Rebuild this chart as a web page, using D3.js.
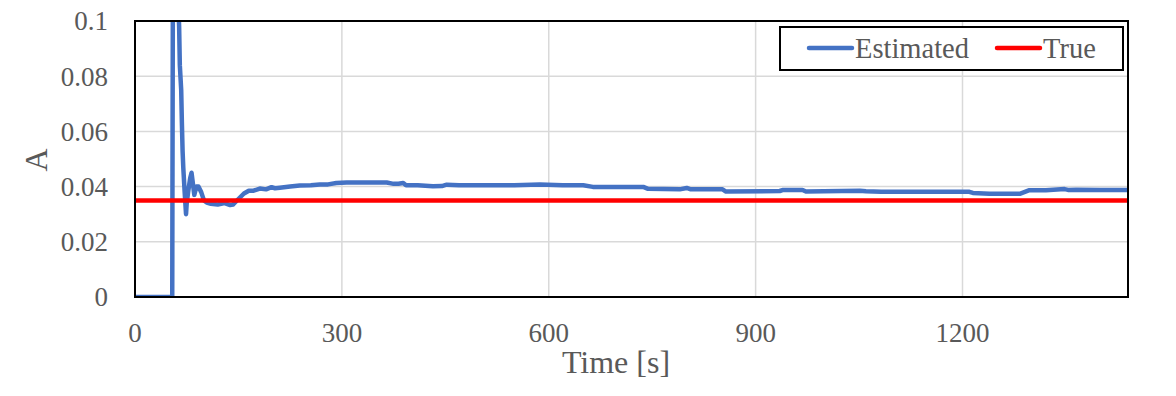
<!DOCTYPE html>
<html lang="en">
<head>
  <meta charset="UTF-8">
  <title>Estimated vs True</title>
  <style>
    body { margin: 0; background: #fff; }
    text { font-family: "Liberation Serif", "Times New Roman", serif; fill: #595959; }
  </style>
</head>
<body>
  <div id="chart"></div>
  <script src="https://cdn.jsdelivr.net/npm/d3@7"></script>
  <script>
    // values: [time s, A]
    const estimated = [
      [0, 0], [54, 0], [55, 0.12], [58, 0.118], [62, 0.112], [64, 0.098], [65, 0.084],
      [67, 0.075], [68, 0.063], [69, 0.053], [70, 0.047], [72, 0.038],
      [74, 0.030], [75, 0.034], [77, 0.038], [80, 0.043], [82, 0.045], [84, 0.041],
      [86, 0.037], [89, 0.040], [92, 0.040], [96, 0.038], [100, 0.035], [104, 0.0342],
      [110, 0.0338], [120, 0.0335], [130, 0.034], [138, 0.0333], [142, 0.0335],
      [150, 0.0355], [158, 0.0375], [165, 0.0385], [172, 0.0385], [181, 0.0393],
      [190, 0.0390], [198, 0.0398], [203, 0.0394], [210, 0.0396], [225, 0.0400],
      [239, 0.0404], [255, 0.0405], [268, 0.0408], [280, 0.0408], [292, 0.0413],
      [307, 0.0415], [330, 0.0415], [365, 0.0415], [375, 0.0410], [382, 0.0410],
      [389, 0.0413], [393, 0.0405], [410, 0.0405], [432, 0.0401], [445, 0.0402],
      [452, 0.0407], [470, 0.0405], [500, 0.0405], [550, 0.0405], [587, 0.0408],
      [620, 0.0405], [650, 0.0405], [664, 0.0399], [700, 0.0399], [737, 0.0399],
      [744, 0.0392], [790, 0.0390], [800, 0.0395], [806, 0.0390], [852, 0.0390],
      [857, 0.0382], [935, 0.0384], [940, 0.0388], [968, 0.0388], [973, 0.0382],
      [1051, 0.0385], [1060, 0.0383], [1082, 0.0381], [1150, 0.0381], [1210, 0.0381],
      [1215, 0.0377], [1239, 0.0374], [1283, 0.0374], [1297, 0.0387], [1321, 0.0387],
      [1348, 0.0391], [1353, 0.0388], [1365, 0.0389], [1400, 0.0388], [1440, 0.0388]
    ];
    const trueValue = 0.035;
    const xTicks = [0, 300, 600, 900, 1200];
    const yTicks = [0, 0.02, 0.04, 0.06, 0.08, 0.1];
    const seriesNames = ['Estimated', 'True'];
    const seriesColors = ['#4472C4', '#FF0000'];

    const width = 1176, height = 396;
    const plotLeft = 135, plotRight = 1128, plotTop = 21, plotBottom = 297;

    const svg = d3.select('#chart').append('svg')
      .attr('width', width)
      .attr('height', height);

    const x = d3.scaleLinear().domain([0, 1440]).range([plotLeft, plotRight]);
    const y = d3.scaleLinear().domain([0, 0.1]).range([plotBottom, plotTop]);

    // gridlines
    svg.append('g')
      .selectAll('line')
      .data(xTicks.slice(1))
      .join('line')
      .attr('x1', d => x(d)).attr('x2', d => x(d))
      .attr('y1', plotTop).attr('y2', plotBottom)
      .attr('stroke', '#D9D9D9').attr('stroke-width', 1.5);
    svg.append('g')
      .selectAll('line')
      .data(yTicks.slice(1, -1))
      .join('line')
      .attr('x1', plotLeft).attr('x2', plotRight)
      .attr('y1', d => y(d)).attr('y2', d => y(d))
      .attr('stroke', '#D9D9D9').attr('stroke-width', 1.5);

    // tick labels
    svg.append('g')
      .selectAll('text')
      .data(yTicks)
      .join('text')
      .attr('x', 108)
      .attr('y', d => y(d))
      .attr('dy', '0.35em')
      .attr('text-anchor', 'end')
      .style('font-size', '27px')
      .text(d => d3.format('~g')(d));
    svg.append('g')
      .selectAll('text')
      .data(xTicks)
      .join('text')
      .attr('x', d => x(d))
      .attr('y', 342)
      .attr('text-anchor', 'middle')
      .style('font-size', '27px')
      .text(d => d);

    // axis titles
    svg.append('text')
      .attr('transform', 'translate(47,160) rotate(-90)')
      .attr('text-anchor', 'middle')
      .style('font-size', '32px')
      .text('A');
    svg.append('text')
      .attr('x', 616)
      .attr('y', 373)
      .attr('text-anchor', 'middle')
      .style('font-size', '32px')
      .text('Time [s]');

    svg.append('clipPath').attr('id', 'plotclip')
      .append('rect')
      .attr('x', plotLeft).attr('y', plotTop)
      .attr('width', plotRight - plotLeft).attr('height', plotBottom - plotTop);

    const plot = svg.append('g').attr('clip-path', 'url(#plotclip)');

    const line = d3.line()
      .x(d => x(d[0]))
      .y(d => y(d[1]));

    plot.append('path')
      .datum(estimated)
      .attr('d', line)
      .attr('fill', 'none')
      .attr('stroke', seriesColors[0])
      .attr('stroke-width', 4.5)
      .attr('stroke-linejoin', 'round');

    plot.append('line')
      .attr('x1', x(0)).attr('x2', x(1440))
      .attr('y1', y(trueValue)).attr('y2', y(trueValue))
      .attr('stroke', seriesColors[1])
      .attr('stroke-width', 4.5);

    // frame
    svg.append('rect')
      .attr('x', plotLeft).attr('y', plotTop)
      .attr('width', plotRight - plotLeft).attr('height', plotBottom - plotTop)
      .attr('fill', 'none')
      .attr('stroke', '#000')
      .attr('stroke-width', 2);

    // legend
    const legend = svg.append('g');
    legend.append('rect')
      .attr('x', 780).attr('y', 27)
      .attr('width', 343).attr('height', 43)
      .attr('fill', '#fff')
      .attr('stroke', '#000')
      .attr('stroke-width', 2);
    const legendX = [809, 997];
    seriesNames.forEach((name, i) => {
      legend.append('line')
        .attr('x1', legendX[i]).attr('x2', legendX[i] + 43)
        .attr('y1', 48).attr('y2', 48)
        .attr('stroke', seriesColors[i])
        .attr('stroke-width', 4.5)
        .attr('stroke-linecap', 'round');
      legend.append('text')
        .attr('x', legendX[i] + 46)
        .attr('y', 58)
        .style('font-size', '28.5px')
        .text(name);
    });
  </script>
</body>
</html>
